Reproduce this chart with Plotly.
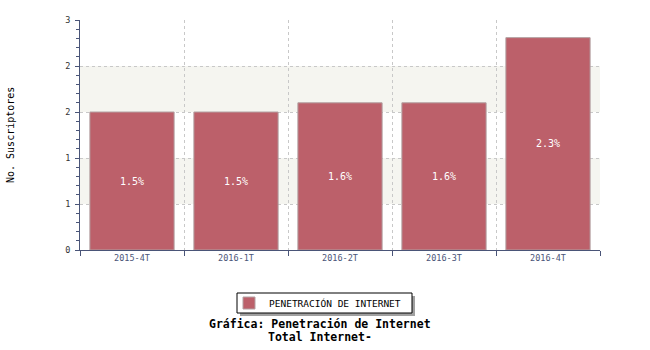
import plotly.graph_objects as go

categories = ["2015-4T", "2016-1T", "2016-2T", "2016-3T", "2016-4T"]
values = [1.8, 1.8, 1.92, 1.92, 2.77]
labels = ["1.5%", "1.5%", "1.6%", "1.6%", "2.3%"]
series_name = "PENETRACIÓN DE INTERNET"
band_ranges = [(0.6, 1.2), (1.8, 2.4)]

FONT = "DejaVu Sans Mono"
AXIS = "#4a5578"

fig = go.Figure()
fig.add_trace(go.Bar(
    x=categories, y=values, text=labels, name=series_name,
    textposition="inside", insidetextanchor="middle", textangle=0,
    textfont=dict(family=FONT, size=10, color="white"),
    marker=dict(color="#bc606a", line=dict(color="#b3a0a2", width=1)),
    width=0.81, showlegend=True,
))

def px_x(p):
    return (p - 80) / 520

def px_y(p):
    return (250 - p) / 230

shapes = []
for y0, y1 in band_ranges:
    shapes.append(dict(type="rect", xref="paper", yref="y", x0=0, x1=1, y0=y0, y1=y1,
                       fillcolor="#f5f5f0", line=dict(width=0), layer="below"))
# legend shadow and frame
shapes.append(dict(type="rect", xref="paper", yref="paper",
                   x0=px_x(240), x1=px_x(415), y0=px_y(316), y1=px_y(296),
                   fillcolor="#a0a0a0", line=dict(width=0), layer="above"))
shapes.append(dict(type="rect", xref="paper", yref="paper",
                   x0=px_x(237), x1=px_x(412), y0=px_y(313), y1=px_y(293),
                   fillcolor="white", line=dict(color="black", width=1), layer="above"))

fig.update_layout(
    width=650, height=350,
    margin=dict(l=80, r=50, t=20, b=100),
    paper_bgcolor="white", plot_bgcolor="white",
    font=dict(family=FONT, size=10, color="#333333"),
    bargap=0.19,
    shapes=shapes,
    showlegend=True,
    legend=dict(
        orientation="h", x=px_x(229), xanchor="left", y=px_y(303), yanchor="middle",
        bgcolor="rgba(0,0,0,0)", borderwidth=0,
        font=dict(family=FONT, size=9.5, color="black"),
    ),
    xaxis=dict(
        showline=True, linecolor=AXIS, linewidth=1,
        ticks="outside", tickson="boundaries", ticklen=5, tickcolor=AXIS,
        showgrid=True, gridcolor="#c8c8c8", griddash="dot",
        tickfont=dict(family=FONT, size=8.5, color=AXIS),
    ),
    yaxis=dict(
        range=[0, 3], dtick=0.6, tickformat=".0f",
        showline=True, linecolor=AXIS, linewidth=1,
        ticks="outside", ticklen=4, tickcolor=AXIS,
        ticklabelstandoff=3,
        minor=dict(dtick=0.12, ticks="outside", ticklen=3, tickcolor=AXIS, showgrid=False),
        showgrid=True, gridcolor="#c8c8c8", griddash="dot",
        zeroline=False,
        tickfont=dict(family=FONT, size=8.5, color="#333333"),
    ),
    annotations=[
        dict(text="No. Suscriptores", xref="paper", yref="paper", x=px_x(10), y=0.5,
             xanchor="center", yanchor="middle",
             textangle=-90, showarrow=False, font=dict(family=FONT, size=10, color="black")),
        dict(text="<b>Gráfica: Penetración de Internet</b>", xref="paper", yref="paper",
             x=px_x(320), y=px_y(324), showarrow=False, xanchor="center", yanchor="middle",
             font=dict(family=FONT, size=11.5, color="black")),
        dict(text="<b>Total Internet-</b>", xref="paper", yref="paper",
             x=px_x(320), y=px_y(337), showarrow=False, xanchor="center", yanchor="middle",
             font=dict(family=FONT, size=11.5, color="black")),
    ],
)

fig.write_html("out.html")
